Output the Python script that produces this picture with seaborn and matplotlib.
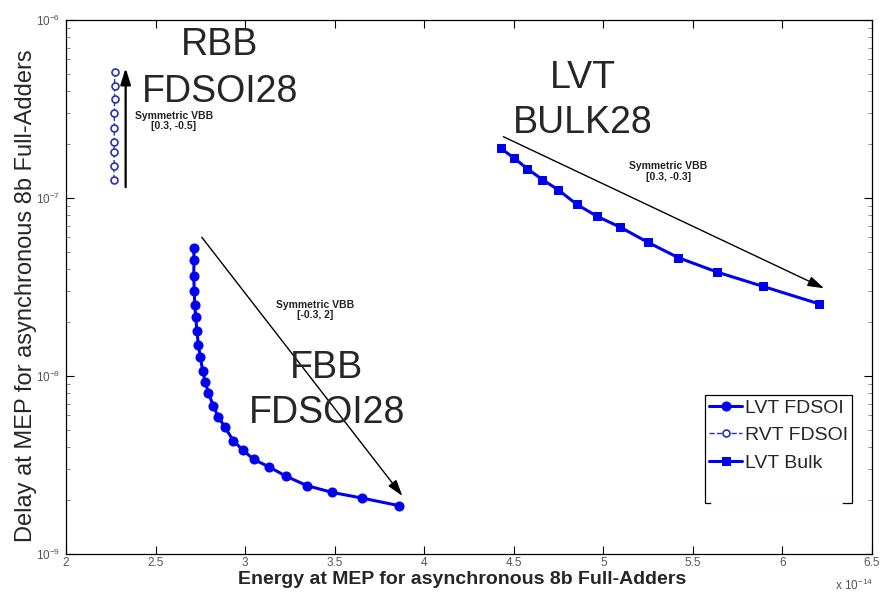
import numpy as np
import pandas as pd
import matplotlib
matplotlib.use("Agg")
import matplotlib.pyplot as plt
from matplotlib.lines import Line2D
from matplotlib import font_manager
import seaborn as sns

# ---------------- data (energy in units of 1e-14 J, delay in s) ----------------
lvt_fdsoi_energy = [2.713, 2.715, 2.713, 2.716, 2.719, 2.724, 2.731, 2.739, 2.750, 2.763,
                    2.778, 2.795, 2.822, 2.849, 2.886, 2.934, 2.988, 3.048, 3.135, 3.230,
                    3.346, 3.485, 3.654, 3.859]
lvt_fdsoi_delay = [5.22e-8, 4.48e-8, 3.66e-8, 3.01e-8, 2.49e-8, 2.15e-8, 1.79e-8, 1.49e-8,
                   1.28e-8, 1.07e-8, 9.22e-9, 8.06e-9, 6.81e-9, 5.91e-9, 5.19e-9, 4.33e-9,
                   3.83e-9, 3.40e-9, 3.08e-9, 2.73e-9, 2.42e-9, 2.22e-9, 2.06e-9, 1.87e-9]

rvt_fdsoi_energy = [2.272, 2.271, 2.271, 2.270, 2.270, 2.269, 2.269, 2.268, 2.268]
rvt_fdsoi_delay = [5.13e-7, 4.26e-7, 3.58e-7, 2.99e-7, 2.48e-7, 2.06e-7, 1.81e-7, 1.51e-7, 1.26e-7]

lvt_bulk_energy = [4.429, 4.503, 4.576, 4.659, 4.749, 4.851, 4.965, 5.095, 5.248, 5.419,
                   5.637, 5.890, 6.206]
lvt_bulk_delay = [1.90e-7, 1.67e-7, 1.46e-7, 1.27e-7, 1.11e-7, 9.22e-8, 7.89e-8, 6.85e-8,
                  5.64e-8, 4.62e-8, 3.83e-8, 3.19e-8, 2.54e-8]

series_labels = ["LVT FDSOI", "RVT FDSOI", "LVT Bulk"]

# body-bias sweep arrows: (start energy, start delay) -> (end energy, end delay)
arrow_starts = [(2.333, 1.15e-7), (2.758, 6.02e-8), (4.442, 2.21e-7)]
arrow_ends = [(2.333, 5.37e-7), (3.878, 2.12e-9), (6.232, 3.11e-8)]
sweep_notes = ["Symmetric VBB\n[0.3, -0.5]", "Symmetric VBB\n[-0.3, 2]", "Symmetric VBB\n[0.3, -0.3]"]
region_titles = [("RBB", "FDSOI28"), ("LVT", "BULK28"), ("FBB", "FDSOI28")]

x_ticks = [2, 2.5, 3, 3.5, 4, 4.5, 5, 5.5, 6, 6.5]
x_tick_labels = ["2", "2.5", "3", "3.5", "4", "4.5", "5", "5.5", "6", "6.5"]


def has_font(name):
    try:
        font_manager.findfont(font_manager.FontProperties(family=name),
                              fallback_to_default=False)
        return True
    except Exception:
        return False


# ---------------- style ----------------
sns.set_style("ticks")
plt.rcParams["font.family"] = ["Liberation Sans", "DejaVu Sans"]
plt.rcParams["mathtext.default"] = "regular"

W, H = 881, 594
fig = plt.figure(figsize=(W / 100, H / 100), dpi=100)
fig.patch.set_facecolor("white")
ax = fig.add_axes([66 / W, 40 / H, 806 / W, 534 / H])
ax.set_facecolor("white")

df_lvt = pd.DataFrame({"E": lvt_fdsoi_energy, "D": lvt_fdsoi_delay})
df_rvt = pd.DataFrame({"E": rvt_fdsoi_energy, "D": rvt_fdsoi_delay})
df_blk = pd.DataFrame({"E": lvt_bulk_energy, "D": lvt_bulk_delay})

blue = "#0000f0"
navy = "#2b2fb5"
sns.lineplot(data=df_lvt, x="E", y="D", ax=ax, sort=False, estimator=None,
             color=blue, lw=2.2, marker="o", markersize=6.5, markeredgecolor=blue,
             markerfacecolor=blue, label=series_labels[0])
sns.lineplot(data=df_rvt, x="E", y="D", ax=ax, sort=False, estimator=None,
             color=navy, lw=1.0, linestyle="--", marker="o", markersize=5,
             markeredgecolor=navy, markerfacecolor="white", markeredgewidth=1.2,
             label=series_labels[1])
sns.lineplot(data=df_blk, x="E", y="D", ax=ax, sort=False, estimator=None,
             color=blue, lw=2.2, marker="s", markersize=5.5, markeredgecolor=blue,
             markerfacecolor=blue, label=series_labels[2])

ax.set_yscale("log")
ax.set_xlim(2, 6.5)
ax.set_ylim(1e-9, 1e-6)
ax.set_xticks(x_ticks)
ax.set_xticklabels(x_tick_labels)

for s in ax.spines.values():
    s.set_visible(True)
    s.set_color("black")
    s.set_linewidth(0.9)
ax.tick_params(which="both", direction="in", top=True, right=True)
ax.tick_params(which="major", length=6, width=0.8, colors="black",
               labelcolor="#555555", labelsize=8.5)
ax.tick_params(axis="x", which="major", pad=2.5)
ax.tick_params(axis="y", which="major", pad=4)
ax.tick_params(which="minor", length=3, width=0.6, colors="#777777")

if has_font("Liberation Sans Narrow"):
    xl_family, xl_size = ["Liberation Sans Narrow", "Liberation Sans"], 16.5
else:
    xl_family, xl_size = ["Liberation Sans", "DejaVu Sans"], 14
ax.set_xlabel("Energy at MEP for asynchronous 8b Full-Adders", fontsize=xl_size,
              fontweight="bold", family=xl_family)
ax.xaxis.label.set_verticalalignment("top")
ax.xaxis.set_label_coords(0.491, -0.031)
ax.set_ylabel("Delay at MEP for asynchronous 8b Full-Adders", fontsize=17)
ax.yaxis.set_label_coords(-0.036, 0.483)
fig.text(0.948, 0.006, r"x 10$^{-14}$", fontsize=8.5, color="#555555", ha="left")

# arrows
for i, (st, en) in enumerate(zip(arrow_starts, arrow_ends)):
    ax.annotate("", xy=en, xytext=st,
                arrowprops=dict(arrowstyle="-|>,head_length=0.7,head_width=0.22",
                                color="black", lw=1.6 if i == 0 else 1.0,
                                shrinkA=0, shrinkB=0, mutation_scale=14))

# small notes
note_pos = [(0.134, 0.811), (0.309, 0.457), (0.747, 0.716)]
for (x, y), t in zip(note_pos, sweep_notes):
    ax.text(x, y, t, transform=ax.transAxes, ha="center", va="center",
            fontsize=7.5, fontweight="bold", color="#222222", linespacing=1.05)

# big region titles (two lines each)
title_pos = [(0.191, 0.934, 0.847), (0.6414, 0.873, 0.788), (0.3234, 0.329, 0.245)]
for (x, y1, y2), (l1, l2) in zip(title_pos, region_titles):
    ax.text(x, y1, l1, transform=ax.transAxes, ha="center", va="baseline", fontsize=27)
    ax.text(x, y2, l2, transform=ax.transAxes, ha="center", va="baseline", fontsize=27)

# legend (with an empty fourth row, as in the original)
handles, labels = ax.get_legend_handles_labels()
handles = handles + [Line2D([], [], color="none")]
labels = labels + [" "]
leg = ax.legend(handles, labels, loc="upper left", bbox_to_anchor=(0.793, 0.297),
                fontsize=14, frameon=True, fancybox=False, edgecolor="black",
                framealpha=1, handlelength=1.7, handletextpad=0.15, borderpad=0.2,
                labelspacing=0.5, borderaxespad=0)
leg.get_frame().set_linewidth(0.9)

# the original legend box has its bottom edge broken in the middle
fig.canvas.draw()
bb = leg.get_frame().get_window_extent()
fig.add_artist(Line2D([(bb.x0 + 7) / W, (bb.x1 - 11) / W], [bb.y0 / H, bb.y0 / H],
                      color="white", lw=2.0, transform=fig.transFigure, zorder=10))

fig.savefig("out.png", dpi=100, facecolor="white")
